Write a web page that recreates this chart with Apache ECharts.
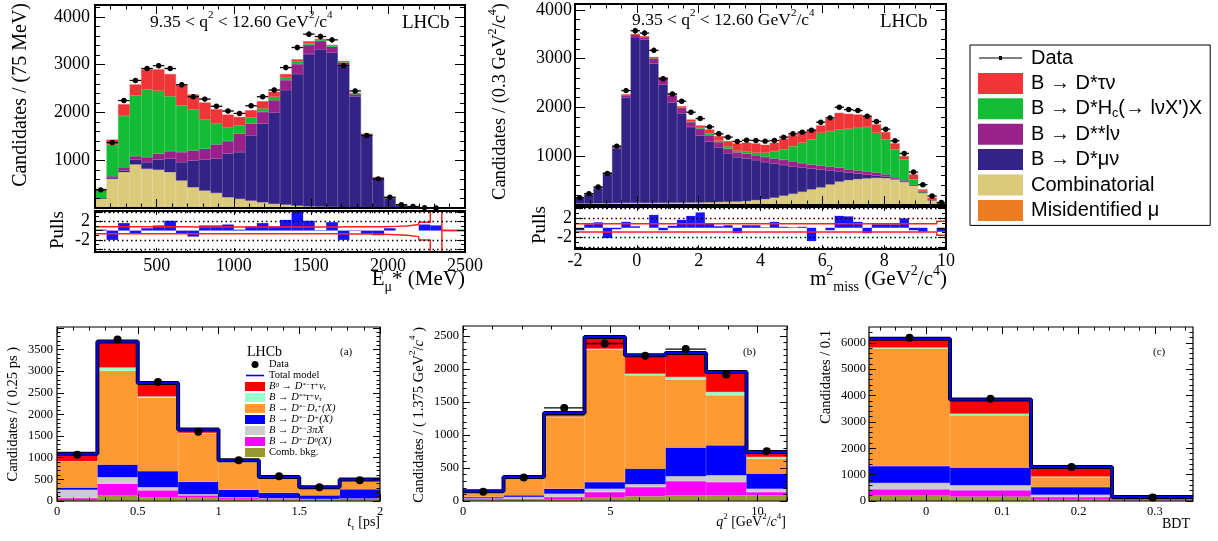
<!DOCTYPE html>
<html>
<head>
<meta charset="utf-8">
<title>LHCb fit projections</title>
<script src="https://cdn.jsdelivr.net/npm/echarts@6.0.0/dist/echarts.min.js"></script>
<style>
  html, body { margin: 0; padding: 0; background: #fff; }
  #chart { width: 1218px; height: 541px; }
</style>
</head>
<body>
<div id="chart"></div>
<script>
// ---- top left: E_mu* , 32 bins of 75 MeV from 100 MeV ----
const E_START = 100;
const E_WIDTH = 75;
const E_DATA  = [380, 1370, 2250, 2670, 2920, 2980, 2920, 2580, 2330, 2280, 2130, 2030, 1980, 2140, 2330, 2470, 2940, 3360, 3640, 3590, 3520, 2980, 2450, 1520, 610, 225, 67, 30, 8, 2, 0, 0];
const E_MISID = [10, 15, 15, 15, 15, 15, 15, 12, 12, 10, 10, 10, 8, 8, 8, 6, 6, 5, 5, 5, 4, 4, 3, 3, 2, 1, 0, 0, 0, 0, 0, 0];
const E_COMBI = [190, 595, 735, 896, 805, 784, 735, 563, 422, 354, 305, 214, 181, 146, 111, 78, 64, 44, 30, 23, 17, 10, 7, 4, 3, 2, 2, 1, 0, 0, 0, 0];
const E_MU    = [0, 35, 35, 98, 140, 210, 280, 385, 561, 645, 715, 911, 981, 1367, 1647, 1913, 2397, 2754, 3189, 3294, 3231, 2957, 2331, 1508, 605, 202, 60, 26, 9, 2, 1, 0];
const E_DSS   = [0, 21, 70, 77, 105, 126, 161, 210, 210, 231, 301, 267, 386, 245, 245, 259, 210, 210, 189, 175, 126, 70, 42, 20, 20, 7, 4, 2, 1, 0, 0, 0];
const E_HC    = [160, 659, 1072, 1276, 1416, 1318, 1150, 981, 855, 617, 435, 280, 175, 126, 70, 71, 49, 49, 35, 21, 21, 9, 7, 5, 5, 2, 1, 0, 0, 0, 0, 0];
const E_TAU   = [40, 105, 245, 224, 420, 448, 462, 421, 316, 350, 301, 273, 175, 154, 154, 105, 77, 49, 42, 21, 14, 26, 21, 16, 10, 4, 3, 1, 0, 0, 0, 0];
const E_PULL  = [0.2, -2.0, 1.6, -0.7, 0.5, 1.1, 2.1, -0.6, -1.3, 1.1, 1.1, 1.3, 0.2, 0.9, 1.6, 0.9, 2.3, 4.0, 2.1, 0.1, 1.8, -2.0, -0.1, -0.7, -1.0, 0.5, 0.0, 0.0, 1.3, 1.1, 0.0, 0.0];
const E_BAND_HI = [0.8, 0.8, 0.8, 0.8, 0.8, 0.8, 0.8, 0.8, 0.75, 0.75, 0.75, 0.75, 0.75, 0.75, 0.75, 0.75, 0.75, 0.75, 0.75, 0.75, 0.75, 0.8, 0.8, 0.8, 0.8, 0.9, 1.0, 1.3, 1.8, 6, 0, 0];
const E_BAND_LO = [-0.7, -0.7, -0.7, -0.7, -0.7, -0.7, -0.7, -0.7, -0.7, -0.7, -0.7, -0.7, -0.7, -0.7, -0.7, -0.7, -0.7, -0.7, -0.7, -0.7, -0.7, -0.75, -0.75, -0.75, -0.8, -0.9, -1.0, -1.3, -2.0, -6, 0, 0];
const E_TICKS = [500, 1000, 1500, 2000, 2500];

// ---- top middle: m2_miss, 40 bins of 0.3 GeV2/c4 from -2 ----
const M_START = -2;
const M_WIDTH = 0.3;
const M_DATA  = [150, 232, 368, 648, 1207, 2345, 3572, 3524, 3170, 2590, 2277, 2127, 1902, 1772, 1602, 1459, 1391, 1302, 1329, 1322, 1309, 1322, 1391, 1459, 1493, 1534, 1697, 1786, 2004, 1956, 1936, 1820, 1711, 1554, 1316, 1057, 675, 416, 184, 50];
const M_MISID = [5, 5, 5, 5, 5, 10, 10, 10, 10, 10, 10, 10, 10, 10, 10, 10, 10, 10, 10, 10, 10, 10, 10, 10, 10, 10, 10, 10, 10, 10, 10, 10, 10, 10, 10, 5, 5, 5, 2, 1];
const M_COMBI = [25, 25, 30, 30, 35, 30, 30, 30, 30, 30, 35, 35, 40, 40, 45, 50, 55, 60, 70, 90, 110, 140, 180, 220, 260, 310, 350, 410, 470, 500, 520, 535, 545, 540, 515, 470, 395, 245, 98, 39];
const M_MU    = [110, 180, 310, 600, 1120, 2170, 3400, 3350, 2860, 2430, 2055, 1835, 1550, 1370, 1245, 1120, 995, 910, 870, 820, 760, 700, 630, 560, 500, 425, 365, 285, 210, 150, 110, 75, 45, 30, 15, 10, 5, 5, 5, 2];
const M_DSS   = [5, 10, 15, 20, 30, 40, 50, 50, 100, 120, 140, 110, 100, 140, 130, 110, 90, 100, 100, 100, 105, 105, 105, 105, 90, 85, 85, 80, 75, 70, 70, 70, 65, 50, 30, 20, 5, 3, 2, 1];
const M_HC    = [0, 0, 0, 0, 0, 0, 0, 0, 5, 5, 10, 10, 15, 20, 40, 30, 50, 30, 40, 50, 85, 150, 215, 310, 415, 515, 670, 730, 780, 830, 870, 910, 815, 715, 570, 430, 115, 32, 11, 5];
const M_TAU   = [5, 8, 8, 7, 10, 15, 15, 16, 28, 22, 27, 24, 37, 49, 77, 91, 109, 151, 185, 191, 164, 170, 217, 226, 204, 189, 149, 251, 343, 308, 274, 206, 170, 148, 121, 65, 102, 30, 32, 12];
const M_PULL  = [-0.5, 0.7, 1.1, -2.1, -0.3, 1.2, 0.3, 0.0, 2.6, -0.5, 0.4, 1.6, 2.4, 3.1, 0.9, 0.3, 0.5, -1.1, 0.5, 0.5, 0.1, 1.2, 0.2, 0.1, 0.2, -2.7, 0.0, -0.5, 2.4, 2.3, 1.2, -1.1, 0.7, 0.7, 0.7, 1.9, -0.5, -0.8, 0.0, -0.8];
const M_BAND_HI = [0.8, 0.8, 0.8, 0.8, 0.8, 0.8, 0.8, 0.8, 0.8, 0.8, 0.8, 0.8, 0.8, 0.8, 0.8, 0.8, 0.8, 0.8, 0.8, 0.8, 0.8, 0.8, 0.8, 0.8, 0.8, 0.8, 0.8, 0.8, 0.8, 0.8, 0.8, 0.8, 0.8, 0.8, 0.8, 0.8, 0.8, 0.8, 0.8, 1.3];
const M_BAND_LO = [-0.85, -0.85, -0.85, -0.85, -0.85, -0.85, -0.85, -0.85, -0.85, -0.85, -0.85, -0.85, -0.85, -0.85, -0.85, -0.85, -0.85, -0.85, -0.85, -0.85, -0.85, -0.85, -0.85, -0.85, -0.85, -0.85, -0.85, -0.85, -0.85, -0.85, -0.85, -0.85, -0.85, -0.85, -0.85, -0.85, -0.85, -0.85, -0.85, -1.5];
const M_TICKS = [-2, 0, 2, 4, 6, 8, 10];

// ---- bottom (a): t_tau, 8 bins of 0.25 ps ----
const T_START = 0, T_WIDTH = 0.25;
const T_DATA = [1070, 3730, 2750, 1600, 940, 570, 320, 480];
const T_COMB = [20, 130, 90, 75, 50, 40, 30, 30];
const T_D0   = [50, 270, 155, 55, 25, 15, 15, 20];
const T_3PI  = [190, 150, 75, 25, 10, 10, 5, 10];
const T_DP   = [50, 290, 370, 290, 175, 125, 80, 210];
const T_DS   = [600, 2170, 1695, 1110, 640, 345, 180, 210];
const T_DSST = [10, 75, 30, 15, 5, 5, 2, 5];
const T_SIG  = [170, 600, 310, 80, 35, 15, 8, 10];
const T_XERR = [0, 0, 0, 0, 0, 0, 0, 0];

// ---- bottom (b): q2, 8 bins of 1.375 GeV2/c4 ----
const Q_START = 0, Q_WIDTH = 1.375;
const Q_DATA = [140, 355, 1410, 2385, 2200, 2300, 1915, 755];
const Q_COMB = [20, 20, 20, 50, 71, 86, 86, 86];
const Q_D0   = [20, 15, 40, 86, 141, 217, 202, 50];
const Q_3PI  = [5, 25, 50, 51, 41, 71, 101, 51];
const Q_DP   = [15, 26, 76, 101, 237, 434, 454, 227];
const Q_DS   = [60, 268, 1086, 2005, 1414, 1030, 758, 227];
const Q_DSST = [2, 3, 10, 15, 25, 41, 51, 26];
const Q_SIG  = [25, 7, 50, 177, 278, 363, 303, 75];
const Q_XERR = [0, 0, 1, 1, 0, 1, 0, 0];

// ---- bottom (c): BDT, 4 bins from -0.075 ----
const B_START = -0.075, B_WIDTH = 0.10625;
const B_DATA = [6190, 3880, 1290, 130];
const B_COMB = [215, 177, 63, 25];
const B_D0   = [228, 228, 89, 15];
const B_3PI  = [241, 190, 88, 5];
const B_DP   = [645, 671, 292, 20];
const B_DS   = [4456, 1987, 379, 30];
const B_DSST = [38, 63, 20, 2];
const B_SIG  = [330, 532, 360, 50];
const B_XERR = [0, 0, 0, 0];

const SERIF = '"Liberation Serif", "DejaVu Serif", serif';
const SANS = '"Liberation Sans", "DejaVu Sans", sans-serif';

function range(a, b, step) {
  const out = [];
  for (let i = 0; a + i * step <= b + 1e-9; i++) out.push(+(a + i * step).toFixed(6));
  return out;
}

function rich(fs, fam) {
  const big = Math.round(fs * 1.45), small = Math.round(fs * 0.8), sf = Math.round(fs * 0.65);
  return {
    n:   { fontSize: fs, fontFamily: fam, lineHeight: big, color: '#000', fill: '#000' },
    i:   { fontSize: fs, fontFamily: fam, fontStyle: 'italic', lineHeight: big, color: '#000', fill: '#000' },
    sub: { fontSize: sf, fontFamily: fam, verticalAlign: 'bottom', lineHeight: small, color: '#000', fill: '#000' },
    sup: { fontSize: sf, fontFamily: fam, verticalAlign: 'top', lineHeight: small, color: '#000', fill: '#000' }
  };
}

const grid = [], xAxis = [], yAxis = [], series = [], graphic = [];

function axis(g, pos, r, ticks, len, labels, font, margin) {
  return {
    type: 'value', gridIndex: g, position: pos, min: r.min, max: r.max, z: 6,
    axisLine: { show: false, onZero: false }, splitLine: { show: false },
    axisTick: { show: true, inside: true, length: len, customValues: ticks, lineStyle: { color: '#000', width: 1 } },
    axisLabel: labels
      ? { show: true, customValues: labels, color: '#000', fontFamily: SERIF, fontSize: font, margin: margin,
          formatter: v => String(v) }
      : { show: false },
    axisPointer: { show: false }
  };
}

function panel(o) {
  const g = grid.length;
  grid.push({
    left: o.box[0], top: o.box[1], width: o.box[2], height: o.box[3],
    show: true, z: 5, borderColor: '#000', borderWidth: o.frame,
    backgroundColor: 'transparent', containLabel: false, outerBoundsMode: 'none'
  });
  const xc = xAxis.length;
  xAxis.push({ type: 'category', gridIndex: g, show: false, boundaryGap: true, data: o.bins, axisLine: { onZero: false } });
  const xv = xAxis.length;
  xAxis.push(axis(g, 'bottom', o.x, o.x.major, o.tx, o.x.labels, o.font, o.xm));
  xAxis.push(axis(g, 'bottom', o.x, o.x.minor, o.tx / 2));
  xAxis.push(axis(g, 'top', o.x, o.x.major, o.tx));
  xAxis.push(axis(g, 'top', o.x, o.x.minor, o.tx / 2));
  const yv = yAxis.length;
  yAxis.push(axis(g, 'left', o.y, o.y.major, o.ty, o.y.labels, o.font, o.ym));
  yAxis.push(axis(g, 'left', o.y, o.y.minor, o.ty / 2));
  yAxis.push(axis(g, 'right', o.y, o.y.major, o.ty));
  yAxis.push(axis(g, 'right', o.y, o.y.minor, o.ty / 2));
  return { g, xc, xv, yv };
}

function stack(p, comps) {
  comps.forEach(c => {
    series.push({
      type: 'bar', name: c.name, xAxisIndex: p.xc, yAxisIndex: p.yv, stack: 'st' + p.g,
      data: c.data, barCategoryGap: '0%', silent: true, z: 2,
      itemStyle: { color: c.color, borderColor: c.color, borderWidth: 0.4 }
    });
  });
}

function dataPoints(p, values, start, width, radius, lw, xerr) {
  series.push({
    type: 'custom', name: 'Data', xAxisIndex: p.xv, yAxisIndex: p.yv, z: 8, silent: true,
    itemStyle: { color: '#000' },
    data: values.map((v, i) => [start + (i + 0.5) * width, v, xerr ? xerr[i] * width / 2 : width / 2]),
    renderItem(params, api) {
      const x = api.value(0), v = api.value(1), hw = api.value(2);
      if (!(v > 0)) return null;
      const e = Math.sqrt(v);
      const c = api.coord([x, v]);
      const up = api.coord([x, v + e]), dn = api.coord([x, v - e]);
      const st = { stroke: '#000', lineWidth: lw };
      const kids = [
        { type: 'line', shape: { x1: up[0], y1: up[1], x2: dn[0], y2: dn[1] }, style: st },
        { type: 'circle', shape: { cx: c[0], cy: c[1], r: radius }, style: { fill: '#000' } }
      ];
      if (hw > 0) {
        const l = api.coord([x - hw, v]), r = api.coord([x + hw, v]);
        kids.push({ type: 'line', shape: { x1: l[0], y1: l[1], x2: r[0], y2: r[1] }, style: st });
      }
      return { type: 'group', children: kids };
    }
  });
}

function stepLine(start, width, values) {
  const pts = [];
  values.forEach((v, i) => { pts.push([start + i * width, v]); pts.push([start + (i + 1) * width, v]); });
  return pts;
}

function label(x, y, text, fs, o = {}) {
  const fam = o.family || SERIF;
  graphic.push({
    type: 'text', x: x, y: y, rotation: o.rot || 0, silent: true, z: 30,
    style: { text: text, fill: '#000', fontSize: fs, fontFamily: fam,
             align: o.align || 'left', verticalAlign: 'middle', rich: rich(fs, fam) }
  });
}

// ---------------- top left ----------------
const eX = { min: 100, max: 2500, major: E_TICKS, minor: range(100, 2500, 100), labels: E_TICKS };
const yTop = (max) => ({ min: 0, max: max, major: range(0, 4000, 1000), minor: range(0, 4200, 200), labels: [1000, 2000, 3000, 4000] });
const pullY = (lo, hi) => ({ min: lo, max: hi, major: [-4, -2, 0, 2, 4], minor: range(-4, 4, 1), labels: [-2, 2] });

const TOP_COLORS = { misid: '#ee7c22', combi: '#dbca7a', mu: '#342387', dss: '#98228a', hc: '#12bd35', tau: '#ef3537' };

const TL = panel({ box: [95, 5, 370, 203], bins: E_DATA.map((_, i) => i), x: { ...eX, labels: null }, y: yTop(4250), frame: 2, tx: 9, ty: 10, font: 18, ym: 5 });
stack(TL, [
  { name: 'misid', data: E_MISID, color: TOP_COLORS.misid },
  { name: 'combi', data: E_COMBI, color: TOP_COLORS.combi },
  { name: 'mu', data: E_MU, color: TOP_COLORS.mu },
  { name: 'dss', data: E_DSS, color: TOP_COLORS.dss },
  { name: 'hc', data: E_HC, color: TOP_COLORS.hc },
  { name: 'tau', data: E_TAU, color: TOP_COLORS.tau }
]);
dataPoints(TL, E_DATA, E_START, E_WIDTH, 2.7, 1.3);

const TLP = panel({ box: [95, 211, 370, 41], bins: E_PULL.map((_, i) => i), x: eX, y: pullY(-4.6, 4.2), frame: 2, tx: 4, ty: 8, font: 18, xm: 5, ym: 5 });

function pulls(p, vals, start, width, hi, lo) {
  series.push({
    type: 'bar', name: 'pull', xAxisIndex: p.xc, yAxisIndex: p.yv, data: vals, barCategoryGap: '0%', silent: true, z: 2,
    itemStyle: { color: '#1515ff' },
    markLine: {
      silent: true, symbol: 'none', label: { show: false }, animation: false,
      lineStyle: { type: [1.5, 3], color: '#000', width: 1.3 },
      data: [{ yAxis: 4 }, { yAxis: 2 }, { yAxis: -2 }, { yAxis: -4 }]
    }
  });
  [hi, lo].forEach(b => series.push({
    type: 'line', name: 'band', xAxisIndex: p.xv, yAxisIndex: p.yv, data: stepLine(start, width, b),
    showSymbol: false, silent: true, z: 4, lineStyle: { color: '#ff2020', width: 1.5 }
  }));
}
pulls(TLP, E_PULL, E_START, E_WIDTH, E_BAND_HI, E_BAND_LO);

// ---------------- top middle ----------------
const mX = { min: -2, max: 10, major: M_TICKS, minor: range(-2, 10, 0.5), labels: M_TICKS };
const TM = panel({ box: [575, 4, 371, 201], bins: M_DATA.map((_, i) => i), x: { ...mX, labels: null }, y: yTop(4120), frame: 2, tx: 9, ty: 10, font: 18, ym: 3 });
stack(TM, [
  { name: 'misid', data: M_MISID, color: TOP_COLORS.misid },
  { name: 'combi', data: M_COMBI, color: TOP_COLORS.combi },
  { name: 'mu', data: M_MU, color: TOP_COLORS.mu },
  { name: 'dss', data: M_DSS, color: TOP_COLORS.dss },
  { name: 'hc', data: M_HC, color: TOP_COLORS.hc },
  { name: 'tau', data: M_TAU, color: TOP_COLORS.tau }
]);
dataPoints(TM, M_DATA, M_START, M_WIDTH, 2.7, 1.3);
const TMP = panel({ box: [575, 207, 371, 42], bins: M_PULL.map((_, i) => i), x: mX, y: pullY(-4.3, 4.2), frame: 2, tx: 4, ty: 8, font: 18, xm: 3, ym: 3 });
pulls(TMP, M_PULL, M_START, M_WIDTH, M_BAND_HI, M_BAND_LO);

// ---------------- bottom row ----------------
const BOT_COLORS = { comb: '#999933', d0: '#ff00ff', '3pi': '#cccccc', dp: '#0000ff', ds: '#ff9a33', dsst: '#99ffcc', sig: '#ff0000' };

function bottom(box, start, width, data, comps, xerr, x, y, ym) {
  const p = panel({ box: box, bins: data.map((_, i) => i), x: x, y: y, frame: 1.2, tx: 7, ty: 7, font: 12.5, xm: 4, ym: ym });
  const names = ['comb', 'd0', '3pi', 'dp', 'ds', 'dsst', 'sig'];
  stack(p, comps.map((d, k) => ({ name: names[k], data: d, color: BOT_COLORS[names[k]] })));
  const total = data.map((_, i) => comps.reduce((s, d) => s + d[i], 0));
  series.push({ type: 'line', name: 'outline', xAxisIndex: p.xv, yAxisIndex: p.yv, data: stepLine(start, width, total),
    showSymbol: false, silent: true, z: 3, lineStyle: { color: '#000', width: 4 } });
  series.push({ type: 'line', name: 'Total model', xAxisIndex: p.xv, yAxisIndex: p.yv, data: stepLine(start, width, total),
    showSymbol: false, silent: true, z: 4, itemStyle: { color: '#0000ff' }, lineStyle: { color: '#0000ff', width: 2 } });
  dataPoints(p, data, start, width, 4, 1.4, xerr);
  return p;
}

bottom([57, 327, 323, 174], T_START, T_WIDTH, T_DATA, [T_COMB, T_D0, T_3PI, T_DP, T_DS, T_DSST, T_SIG], T_XERR,
  { min: 0, max: 2, major: [0, 0.5, 1, 1.5, 2], minor: range(0, 2, 0.1), labels: [0, 0.5, 1, 1.5, 2] },
  { min: 0, max: 4020, major: range(0, 4000, 500), minor: range(0, 4000, 100), labels: range(0, 3500, 500) }, 4);
bottom([463, 326, 324, 175], Q_START, Q_WIDTH, Q_DATA, [Q_COMB, Q_D0, Q_3PI, Q_DP, Q_DS, Q_DSST, Q_SIG], Q_XERR,
  { min: 0, max: 11, major: [0, 5, 10], minor: range(0, 11, 1), labels: [0, 5, 10] },
  { min: 0, max: 2650, major: range(0, 2500, 500), minor: range(0, 2600, 100), labels: range(0, 2500, 500) }, 4);
bottom([869, 327, 324, 174], B_START, B_WIDTH, B_DATA, [B_COMB, B_D0, B_3PI, B_DP, B_DS, B_DSST, B_SIG], B_XERR,
  { min: -0.075, max: 0.35, major: [0, 0.1, 0.2, 0.3], minor: range(-0.06, 0.34, 0.02), labels: [0, 0.1, 0.2, 0.3] },
  { min: 0, max: 6600, major: range(0, 6000, 1000), minor: range(0, 6400, 200), labels: range(0, 6000, 1000) }, 3);

// ---------------- texts ----------------
const R90 = Math.PI / 2;
label(21, 3, '{n|Candidates / (75 MeV)}', 20, { rot: R90, align: 'right' });
label(500, 3, '{n|Candidates / (0.3 GeV}{sup|2}{n|/c}{sup|4}{n|)}', 18.5, { rot: R90, align: 'right' });
label(58, 230, '{n|Pulls}', 19, { rot: R90, align: 'center' });
label(540, 225, '{n|Pulls}', 19, { rot: R90, align: 'center' });
label(465, 279, '{n|E}{sub|μ}{n|* (MeV)}', 21, { align: 'right' });
label(947, 279, '{n|m}{sup|2}{sub|miss}{n| (GeV}{sup|2}{n|/c}{sup|4}{n|)}', 21, { align: 'right' });
label(150, 22, '{n|9.35 < q}{sup|2}{n| < 12.60 GeV}{sup|2}{n|/c}{sup|4}', 17.5);
label(402, 23, '{n|LHCb}', 19);
label(632, 20, '{n|9.35 < q}{sup|2}{n| < 12.60 GeV}{sup|2}{n|/c}{sup|4}', 17.5);
label(880, 22, '{n|LHCb}', 19);

label(13, 347, '{n|Candidates / ( 0.25 ps )}', 14.5, { rot: R90, align: 'right' });
label(419, 327, '{n|Candidates / ( 1.375 GeV}{sup|2}{n|/}{i|c}{sup|4}{n| )}', 14.5, { rot: R90, align: 'right' });
label(826, 330, '{n|Candidates / 0.1}', 14.5, { rot: R90, align: 'right' });
label(380, 522, '{i|t}{sub|τ}{n| [ps]}', 14, { align: 'right' });
label(786, 522, '{i|q}{sup|2}{n| [GeV}{sup|2}{n|/}{i|c}{sup|4}{n|]}', 14, { align: 'right' });
label(1190, 524, '{n|BDT}', 14, { align: 'right' });
label(247, 352, '{n|LHCb}', 14);
label(340, 352, '{n|(a)}', 11);
label(743, 352, '{n|(b)}', 11);
label(1153, 352, '{n|(c)}', 11);

// ---------------- legends ----------------
const TOP_LEGEND = ['Data', 'tau', 'hc', 'dss', 'mu', 'combi', 'misid'];
const TOP_LABELS = {
  Data: '{n|Data}', tau: '{n|B → D*τν}', hc: "{n|B → D*H}{sub|c}{n|(→ lνX')X}",
  dss: '{n|B → D**lν}', mu: '{n|B → D*μν}', combi: '{n|Combinatorial}', misid: '{n|Misidentified μ}'
};
const BOT_LEGEND = ['Data', 'Total model', 'sig', 'dsst', 'ds', 'dp', '3pi', 'd0', 'comb'];
const BOT_LABELS = {
  'Data': '{n|Data}', 'Total model': '{n|Total model}',
  sig: '{i|B}{s|0}{n| → }{i|D}{s|*−}{i|τ}{s|+}{i|ν}{b|τ}',
  dsst: '{i|B}{n| → }{i|D}{s|**}{i|τ}{s|+}{i|ν}{b|τ}',
  ds: '{i|B}{n| → }{i|D}{s|*−}{i|D}{b|s}{s|+}{i|(X)}',
  dp: '{i|B}{n| → }{i|D}{s|*−}{i|D}{s|+}{i|(X)}',
  '3pi': '{i|B}{n| → }{i|D}{s|*−}{i|3πX}',
  d0: '{i|B}{n| → }{i|D}{s|*−}{i|D}{s|0}{i|(X)}',
  comb: '{n|Comb. bkg.}'
};
const botRich = {
  n: { fontSize: 10.5, fontFamily: SERIF, lineHeight: 9.7, color: '#000' },
  i: { fontSize: 10.5, fontFamily: SERIF, fontStyle: 'italic', lineHeight: 9.7, color: '#000' },
  s: { fontSize: 7, fontFamily: SERIF, fontStyle: 'italic', verticalAlign: 'top', lineHeight: 7, color: '#000' },
  b: { fontSize: 7, fontFamily: SERIF, fontStyle: 'italic', verticalAlign: 'bottom', lineHeight: 7, color: '#000' }
};

const chart = echarts.init(document.getElementById('chart'), null, { renderer: 'canvas' });
chart.setOption({
  animation: false,
  backgroundColor: '#fff',
  tooltip: { show: false },
  grid: grid,
  xAxis: xAxis,
  yAxis: yAxis,
  series: series,
  graphic: { elements: graphic },
  legend: [
    {
      left: 970, top: 45, orient: 'vertical', selectedMode: false,
      padding: [2, 8, 4, 8], itemWidth: 43, itemHeight: 19, itemGap: 3.4,
      borderColor: '#000', borderWidth: 1, backgroundColor: '#fff',
      data: TOP_LEGEND.map(n => ({ name: n, icon: n === 'Data' ? 'path://M0,9h44v1.2H0z M20.5,7.6h3v4h-3z' : 'rect' })),
      formatter: n => TOP_LABELS[n],
      textStyle: {
        fontFamily: SANS, fontSize: 20, color: '#000', lineHeight: 22, padding: [0, 0, 0, 4],
        rich: {
          n: { fontFamily: SANS, fontSize: 20, lineHeight: 22, color: '#000' },
          sub: { fontFamily: SANS, fontSize: 12.5, lineHeight: 13, verticalAlign: 'bottom', color: '#000' }
        }
      }
    },
    {
      left: 245, top: 359, orient: 'vertical', selectedMode: false,
      padding: 0, itemWidth: 18, itemHeight: 7, itemGap: 0,
      data: BOT_LEGEND.map(n => ({
        name: n,
        icon: n === 'Data' ? 'circle' : (n === 'Total model' ? 'path://M0,0h18v1.6H0z' : 'rect')
      })),
      formatter: n => BOT_LABELS[n],
      textStyle: { fontFamily: SERIF, fontSize: 10.5, lineHeight: 9.7, color: '#000', rich: botRich }
    }
  ]
});
</script>
</body>
</html>
